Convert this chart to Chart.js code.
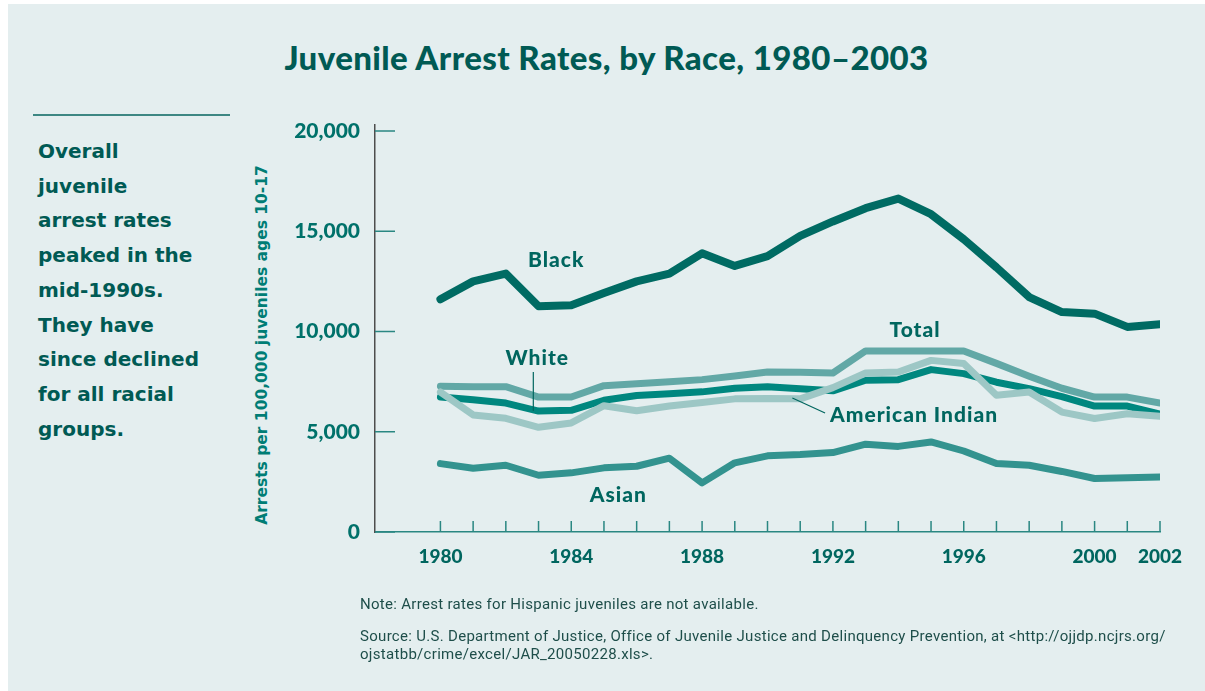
<!DOCTYPE html>
<html>
<head>
<meta charset="utf-8">
<script src="https://cdn.jsdelivr.net/npm/chart.js@4.4.1/dist/chart.umd.min.js"></script>
<style>
  body { margin: 0; width: 1205px; height: 691px; overflow: hidden; position: relative; background: #fff; }
  #panel { position: absolute; left: 8px; top: 4px; width: 1197px; height: 687px; background: #e4eeef; }
  #title { position: absolute; left: 8px; width: 1197px; top: 38px; text-align: center;
           font: 900 33px Lato; letter-spacing: 0.4px; line-height: 1.2; color: #005a54; }
  #rule { position: absolute; left: 33px; top: 114px; width: 197px; height: 2px; background: #3d8783; }
  #side { position: absolute; left: 38px; top: 134px; font: 700 20px "DejaVu Sans";
          line-height: 34.7px; color: #005a54; }
  #ytitle { position: absolute; left: 262px; top: 345px; transform: translate(-50%, -50%) rotate(-90deg);
            white-space: nowrap; font: 700 15.5px "DejaVu Sans"; color: #007d75; }
  .note { position: absolute; left: 360px; font: 400 15px Roboto; letter-spacing: 0.3px; line-height: 17.5px;
          color: #1e4e4a; white-space: nowrap; }
  canvas { position: absolute; left: 0; top: 0; }
</style>
</head>
<body>
<div id="panel"></div>
<div id="title">Juvenile Arrest Rates, by Race, 1980–2003</div>
<div id="rule"></div>
<div id="side">Overall<br>juvenile<br>arrest rates<br>peaked in the<br>mid-1990s.<br>They have<br>since declined<br>for all racial<br>groups.</div>
<div id="ytitle">Arrests per 100,000 juveniles ages 10-17</div>
<canvas id="chart" width="1205" height="691"></canvas>
<div class="note" style="top:596px">Note: Arrest rates for Hispanic juveniles are not available.</div>
<div class="note" style="top:628px">Source: U.S. Department of Justice, Office of Juvenile Justice and Delinquency Prevention, at &lt;http://ojjdp.ncjrs.org/<br>ojstatbb/crime/excel/JAR_20050228.xls&gt;.</div>

<script>
// Annees et graduations
const years = [1980, 1981, 1982, 1983, 1984, 1985, 1986, 1987, 1988, 1989, 1990, 1991,
               1992, 1993, 1994, 1995, 1996, 1997, 1998, 1999, 2000, 2001, 2002];
const xTickLabels = ['1980', '1984', '1988', '1992', '1996', '2000', '2002'];
const yTickValues = [0, 5000, 10000, 15000, 20000];

// Taux d'arrestation pour 100 000 jeunes de 10 a 17 ans
const black = [11610, 12500, 12890, 11260, 11310, 11920, 12500, 12890, 13900, 13270, 13760, 14770,
               15490, 16150, 16630, 15850, 14600, 13200, 11720, 10970, 10890, 10230, 10360];
const white = [6730, 6600, 6430, 6030, 6070, 6570, 6810, 6890, 6990, 7170, 7240, 7150,
               7040, 7570, 7600, 8100, 7900, 7470, 7150, 6750, 6280, 6280, 5880];
const total = [7270, 7250, 7250, 6730, 6730, 7300, 7390, 7490, 7600, 7780, 7980, 7970,
               7930, 9030, 9030, 9030, 9030, 8410, 7770, 7170, 6730, 6730, 6430];
const americanIndian = [6980, 5840, 5670, 5220, 5440, 6300, 6050, 6280, 6460, 6640, 6660, 6640,
                        7200, 7930, 7980, 8560, 8400, 6820, 6980, 5980, 5660, 5900, 5770];
const asian = [3410, 3180, 3330, 2830, 2950, 3200, 3280, 3680, 2450, 3450, 3800, 3860,
               3960, 4380, 4270, 4490, 4040, 3420, 3330, 3020, 2670, 2700, 2740];

function serie(label, values, color, width, order) {
    return {
        label: label,
        data: years.map((yr, i) => ({ x: yr, y: values[i] })),
        borderColor: color,
        borderWidth: width,
        order: order,
        pointRadius: 0,
        tension: 0,
        fill: false,
        borderCapStyle: 'round',
        borderJoinStyle: 'round'
    };
}

const tickColor = '#2a8782';
const labelColor = '#00665f';

// Petites graduations vers l'interieur + etiquettes des courbes
const decorations = {
    id: 'decorations',
    beforeDatasetsDraw(chart) {
        const { ctx, chartArea, scales: { x, y } } = chart;
        ctx.save();
        ctx.strokeStyle = tickColor;
        ctx.lineWidth = 1.5;
        ctx.beginPath();
        years.forEach(yr => {
            const px = x.getPixelForValue(yr);
            ctx.moveTo(px, chartArea.bottom);
            ctx.lineTo(px, chartArea.bottom - 11);
        });
        yTickValues.forEach(v => {
            const py = y.getPixelForValue(v);
            ctx.moveTo(chartArea.left, py);
            ctx.lineTo(chartArea.left + 20, py);
        });
        ctx.stroke();
        ctx.restore();
    },
    afterDatasetsDraw(chart) {
        const { ctx, scales: { x, y } } = chart;
        ctx.save();
        // traits de rappel
        ctx.strokeStyle = labelColor;
        ctx.lineWidth = 1.2;
        ctx.beginPath();
        ctx.moveTo(x.getPixelForValue(1982.84), y.getPixelForValue(7980));
        ctx.lineTo(x.getPixelForValue(1982.84), y.getPixelForValue(6035));
        ctx.moveTo(x.getPixelForValue(1990.76), y.getPixelForValue(6683));
        ctx.lineTo(x.getPixelForValue(1991.76), y.getPixelForValue(5935));
        ctx.stroke();

        ctx.fillStyle = labelColor;
        ctx.font = '900 21px Lato';
        ctx.letterSpacing = '1px';
        ctx.textAlign = 'center';
        ctx.textBaseline = 'alphabetic';
        const notes = [
            ['Black', 1983.54, 13232],
            ['White', 1982.96, 8329],
            ['Total', 1994.51, 9711],
            ['American Indian', 1994.48, 5501],
            ['Asian', 1985.44, 1511]
        ];
        notes.forEach(([txt, yr, v]) => {
            ctx.fillText(txt, x.getPixelForValue(yr), y.getPixelForValue(v));
        });
        ctx.restore();
    }
};

const ctxChart = document.getElementById('chart').getContext('2d');
const chart = new Chart(ctxChart, {
    type: 'line',
    data: {
        datasets: [
            serie('Black', black, '#006b63', 8, 0),
            serie('American Indian', americanIndian, '#9dc7c5', 7, 1),
            serie('Total', total, '#62a8a6', 7, 2),
            serie('White', white, '#00877f', 7, 3),
            serie('Asian', asian, '#33938f', 7, 4)
        ]
    },
    options: {
        responsive: false,
        animation: false,
        layout: { padding: { top: 125, right: 45, left: 0, bottom: 0 } },
        plugins: { legend: { display: false }, tooltip: { enabled: false } },
        scales: {
            x: {
                type: 'linear',
                min: 1978,
                max: 2002,
                afterBuildTicks: scale => { scale.ticks = years.map(v => ({ value: v })); },
                afterFit: scale => { scale.height = 159; },
                grid: { drawOnChartArea: false, drawTicks: false },
                border: { color: tickColor, width: 1.5 },
                ticks: {
                    autoSkip: false,
                    maxRotation: 0,
                    padding: 13,
                    color: labelColor,
                    font: { family: 'Lato', weight: '900', size: 19 },
                    callback: v => xTickLabels.includes(String(v)) ? String(v) : ''
                }
            },
            y: {
                min: 0,
                max: 20300,
                afterBuildTicks: scale => { scale.ticks = yTickValues.map(v => ({ value: v })); },
                afterFit: scale => { scale.width = 375; },
                grid: { drawOnChartArea: false, drawTicks: false },
                border: { color: '#4d4d4d', width: 1.5 },
                ticks: {
                    padding: 15,
                    color: '#00716a',
                    font: { family: 'Lato', weight: '900', size: 21 },
                    callback: v => v.toLocaleString('en-US')
                }
            }
        }
    },
    plugins: [decorations]
});
</script>
</body>
</html>
